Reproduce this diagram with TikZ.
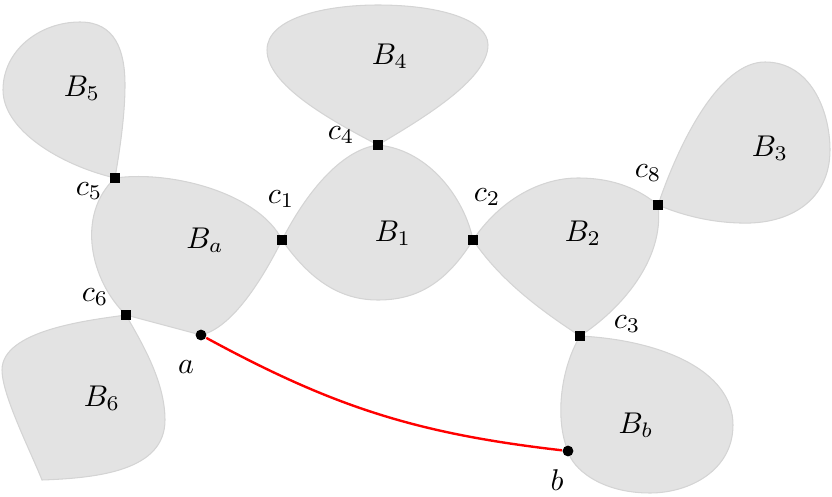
\documentclass[tikz,border=0pt]{standalone}
\begin{document}
\begin{tikzpicture}[x=0.3333pt,y=-0.3333pt,
  blob/.style={fill=black!11,draw=black!17,line width=0.35pt},
  cut/.style={rectangle,fill=black,minimum size=3.3pt,inner sep=0pt},
  pt/.style={circle,fill=black,minimum size=3.6pt,inner sep=0pt},
  lab/.style={inner sep=0pt}]
\useasboundingbox (0,0) rectangle (832,497);
% point positions
\coordinate (p5) at (115,178);
\coordinate (p1) at (282,240);
\coordinate (p4) at (378,145);
\coordinate (p2) at (473,240);
\coordinate (p8) at (658,205);
\coordinate (p3) at (580,336);
\coordinate (p6) at (126,315);
\coordinate (pa) at (201,335);
\coordinate (pb) at (568,451);
% blocks
\path[blob] (p5) .. controls (175,170) and (260,195) .. (p1)
  .. controls (262,280) and (232,328) .. (pa) -- (p6)
  .. controls (90,280) and (76,215) .. (p5) -- cycle;
\path[blob] (p4) .. controls (430,150) and (465,200) .. (p2)
  .. controls (445,285) and (415,300) .. (378,300)
  .. controls (340,300) and (310,280) .. (p1)
  .. controls (305,195) and (340,150) .. (p4) -- cycle;
\path[blob] (p4) .. controls (330,120) and (267,85) .. (267,50)
  .. controls (267,18) and (325,5) .. (378,5)
  .. controls (440,5) and (488,20) .. (488,45)
  .. controls (488,80) and (420,120) .. (p4) -- cycle;
\path[blob] (p5) .. controls (60,165) and (3,130) .. (3,90)
  .. controls (3,50) and (40,22) .. (80,22)
  .. controls (115,22) and (125,50) .. (125,85)
  .. controls (125,120) and (118,160) .. (p5) -- cycle;
\path[blob] (p6) .. controls (90,320) and (2,330) .. (2,370)
  .. controls (2,395) and (30,450) .. (42,480)
  .. controls (100,478) and (165,470) .. (165,420)
  .. controls (165,380) and (140,340) .. (p6) -- cycle;
\path[blob] (p2) .. controls (500,200) and (540,178) .. (578,178)
  .. controls (615,178) and (640,190) .. (p8)
  .. controls (665,260) and (620,310) .. (p3)
  .. controls (540,310) and (500,280) .. (p2) -- cycle;
\path[blob] (p8) .. controls (680,140) and (720,62) .. (765,62)
  .. controls (810,62) and (830,110) .. (830,150)
  .. controls (830,200) and (790,225) .. (740,223)
  .. controls (700,222) and (670,210) .. (p8) -- cycle;
\path[blob] (p3) .. controls (660,340) and (733,370) .. (733,425)
  .. controls (733,470) and (690,493) .. (650,493)
  .. controls (600,493) and (572,468) .. (pb)
  .. controls (555,420) and (560,370) .. (p3) -- cycle;
% markers
\node[cut] (c5) at (p5) {};
\node[cut] (c1) at (p1) {};
\node[cut] (c4) at (p4) {};
\node[cut] (c2) at (p2) {};
\node[cut] (c8) at (p8) {};
\node[cut] (c3) at (p3) {};
\node[cut] (c6) at (p6) {};
\node[pt] (a) at (pa) {};
\node[pt] (b) at (pb) {};
\draw[red,line width=0.8pt] (a) to[bend right=11] (b);
% labels
\node[lab] (l5) at (89,191) {$c_5$};
\node[lab] (l1) at (281,199) {$c_1$};
\node[lab] (l4) at (341,135) {$c_4$};
\node[lab] (l2) at (487,197) {$c_2$};
\node[lab] (l8) at (648,173) {$c_8$};
\node[lab] (l3) at (627,324) {$c_3$};
\node[lab] (l6) at (95,297) {$c_6$};
\node[lab] (la) at (186,367) {$a$};
\node[lab] (lb) at (557,480) {$b$};
\node (B5) at (82,88) {$B_5$};
\node (Ba) at (205,240) {$B_a$};
\node (B4) at (390,56) {$B_4$};
\node (B1) at (393,233) {$B_1$};
\node (B2) at (583,233) {$B_2$};
\node (B3) at (770,148) {$B_3$};
\node (B6) at (102,398) {$B_6$};
\node (Bb) at (636,425) {$B_b$};
\end{tikzpicture}
\end{document}
